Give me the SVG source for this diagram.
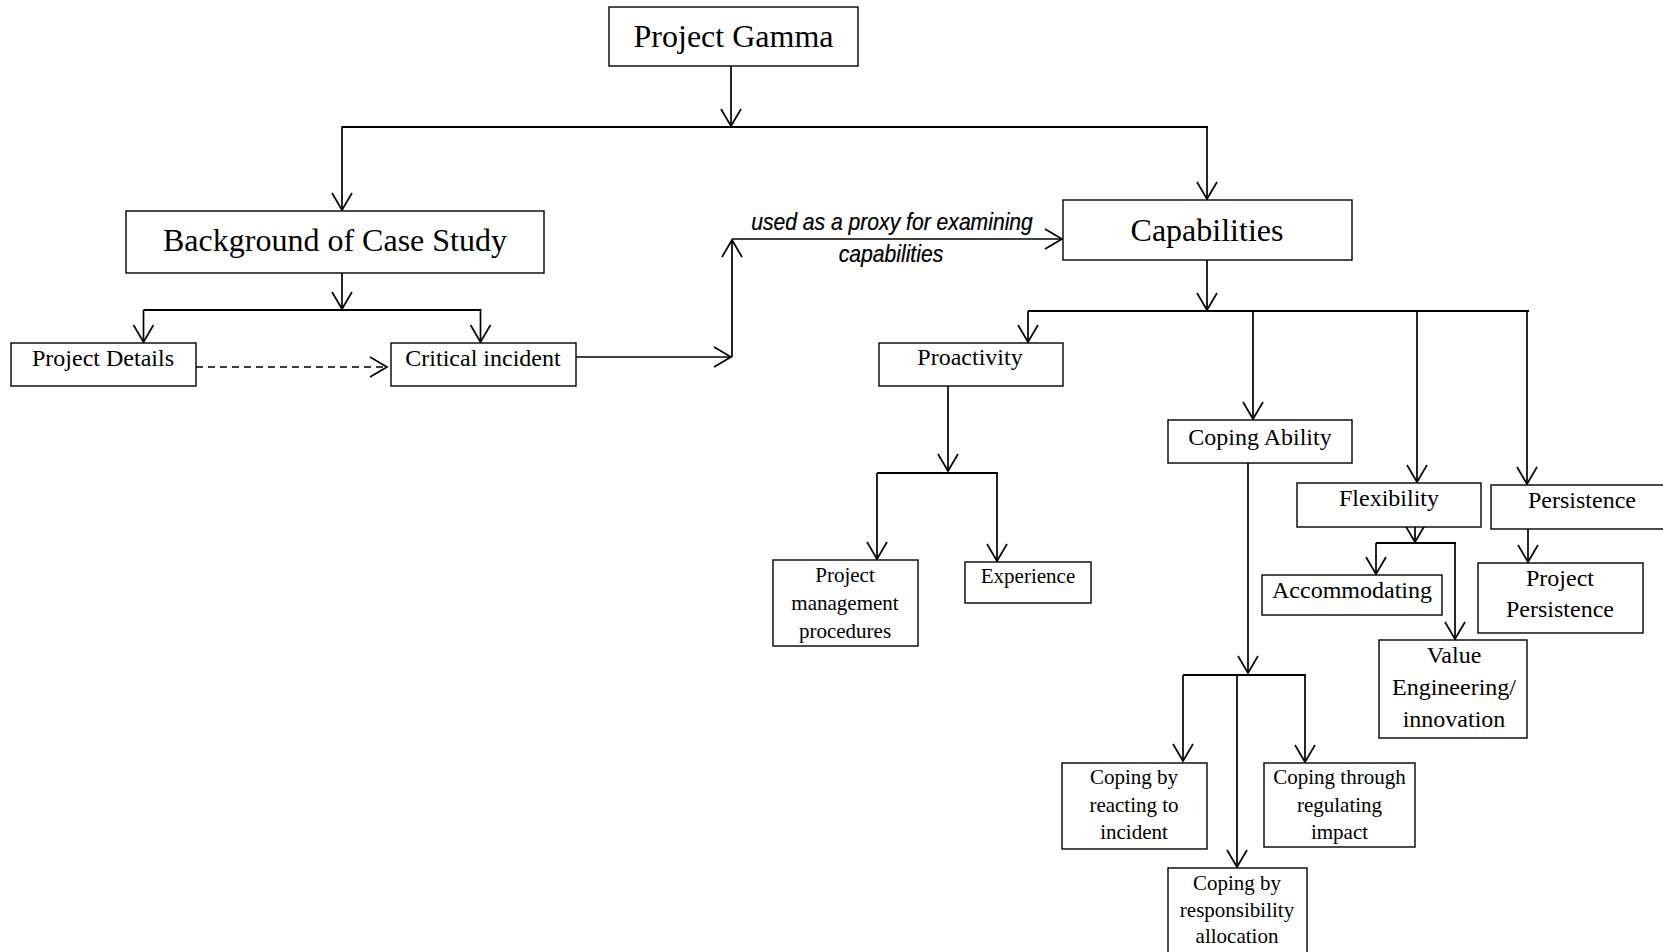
<svg xmlns="http://www.w3.org/2000/svg" width="1663" height="952" viewBox="0 0 1663 952">
<style>
.box{fill:#fff;stroke:#000;stroke-width:1.4}
.t{font-family:"Liberation Serif","Times New Roman",serif;fill:#000;text-anchor:middle}
.l1{font-size:32px}
.l2{font-size:24px}
.l3{font-size:21px}
.c{fill:none;stroke:#000;stroke-width:1.7}
.a{marker-end:url(#arr)}
.bus{fill:none;stroke:#000;stroke-width:2.2}
.dash{stroke-dasharray:7 5}
.lab{font-family:"Liberation Sans",Arial,sans-serif;font-style:italic;font-size:24px;text-anchor:middle;fill:#000;stroke:#000;stroke-width:0.25}
</style>
<defs>
<marker id="arr" viewBox="-20 -12 24 24" markerWidth="24" markerHeight="24" refX="0" refY="0" orient="auto" markerUnits="userSpaceOnUse" overflow="visible">
<path d="M-17,-10 L0,0 L-17,10" fill="none" stroke="#000" stroke-width="1.7"/>
</marker>
</defs>
<rect width="1663" height="952" fill="#fff"/>
<g id="connectors">
<path class="c a" d="M731,66 V126"/>
<path class="bus" d="M341.5,127 H1208"/>
<path class="c a" d="M342,127 V210"/>
<path class="c a" d="M1207,127 V199"/>
<path class="c a" d="M342,273 V309"/>
<path class="bus" d="M143.5,310 H481.5"/>
<path class="c a" d="M143.5,310 V342"/>
<path class="c a" d="M480.5,310 V342"/>
<path class="c a dash" d="M196,367 H387"/>
<path class="c a" d="M576,357 H731"/>
<path class="c a" d="M732,357 V240"/>
<path class="c a" d="M732,239 H1062"/>
<path class="c a" d="M1207,260 V310"/>
<path class="bus" d="M1028,311 H1529"/>
<path class="c a" d="M1028,311 V342"/>
<path class="c a" d="M1253,311 V419"/>
<path class="c a" d="M1417,311 V482"/>
<path class="c a" d="M1527,311 V484"/>
<path class="c a" d="M948,386 V471"/>
<path class="bus" d="M877,473 H998"/>
<path class="c a" d="M877,473 V559"/>
<path class="c a" d="M997,473 V561"/>
<path class="c a" d="M1248,463 V673"/>
<path class="bus" d="M1183,675 H1306"/>
<path class="c a" d="M1183,675 V761"/>
<path class="c a" d="M1237,675 V867"/>
<path class="c a" d="M1305,675 V762"/>
<path class="c a" d="M1415,527 V542"/>
<path class="bus" d="M1376,543 H1456"/>
<path class="c a" d="M1376,543 V574"/>
<path class="c a" d="M1455,543 V639"/>
<path class="c a" d="M1528,529 V562"/>
<text class="lab" transform="translate(892,230) scale(0.88,1)">used as a proxy for examining</text>
<text class="lab" transform="translate(891,262) scale(0.88,1)">capabilities</text>
</g>
<g id="gamma"><rect class="box" x="609" y="7" width="249" height="59"/><text class="t l1" x="733.5" y="47">Project Gamma</text></g>
<g id="background"><rect class="box" x="126" y="211" width="418" height="62"/><text class="t l1" x="335" y="251">Background of Case Study</text></g>
<g id="capabilities"><rect class="box" x="1063" y="200" width="289" height="60"/><text class="t l1" x="1207" y="241">Capabilities</text></g>
<g id="projectdetails"><rect class="box" x="11" y="343" width="185" height="43"/><text class="t l2" x="103" y="366">Project Details</text></g>
<g id="criticalincident"><rect class="box" x="391" y="343" width="185" height="43"/><text class="t l2" x="483" y="366">Critical incident</text></g>
<g id="proactivity"><rect class="box" x="879" y="343" width="184" height="43"/><text class="t l2" x="970" y="365">Proactivity</text></g>
<g id="copingability"><rect class="box" x="1168" y="420" width="184" height="43"/><text class="t l2" x="1260" y="445">Coping Ability</text></g>
<g id="flexibility"><rect class="box" x="1297" y="483" width="184" height="44"/><text class="t l2" x="1389" y="506">Flexibility</text></g>
<g id="persistence"><rect class="box" x="1491" y="485" width="180" height="44"/><text class="t l2" x="1582" y="508">Persistence</text></g>
<g id="accommodating"><rect class="box" x="1262" y="575" width="180" height="40"/><text class="t l2" x="1352" y="598">Accommodating</text></g>
<g id="projectpersistence"><rect class="box" x="1478" y="563" width="165" height="70"/><text class="t l2" x="1560" y="586">Project</text><text class="t l2" x="1560" y="617">Persistence</text></g>
<g id="valueengineering"><rect class="box" x="1379" y="640" width="148" height="98"/><text class="t l2" x="1454" y="663">Value</text><text class="t l2" x="1454" y="695">Engineering/</text><text class="t l2" x="1454" y="727">innovation</text></g>
<g id="pmprocedures"><rect class="box" x="773" y="560" width="145" height="86"/><text class="t l3" x="845" y="582">Project</text><text class="t l3" x="845" y="610">management</text><text class="t l3" x="845" y="638">procedures</text></g>
<g id="experience"><rect class="box" x="965" y="562" width="126" height="41"/><text class="t l3" x="1028" y="583">Experience</text></g>
<g id="copingreacting"><rect class="box" x="1062" y="763" width="145" height="86"/><text class="t l3" x="1134" y="784">Coping by</text><text class="t l3" x="1134" y="812">reacting to</text><text class="t l3" x="1134" y="839">incident</text></g>
<g id="copingregulating"><rect class="box" x="1264" y="763" width="151" height="84"/><text class="t l3" x="1339.5" y="784">Coping through</text><text class="t l3" x="1339.5" y="812">regulating</text><text class="t l3" x="1339.5" y="839">impact</text></g>
<g id="copingresponsibility"><rect class="box" x="1168" y="868" width="139" height="92"/><text class="t l3" x="1237" y="890">Coping by</text><text class="t l3" x="1237" y="917">responsibility</text><text class="t l3" x="1237" y="943">allocation</text></g>
</svg>
